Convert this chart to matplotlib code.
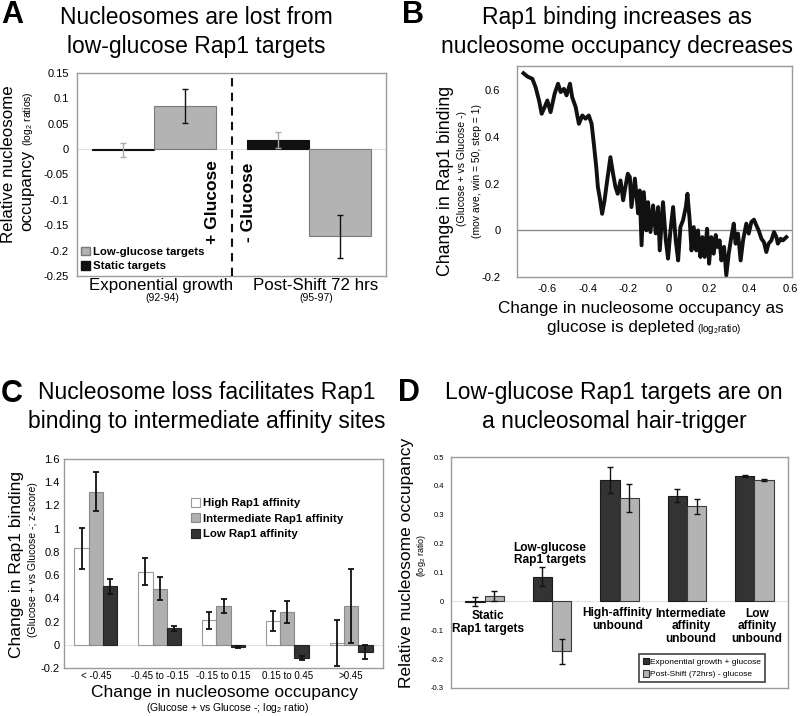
import matplotlib
matplotlib.use('Agg')
import matplotlib.pyplot as plt
from matplotlib.patches import Patch
import numpy as np

plt.rcParams['font.family'] = ['Liberation Sans', 'DejaVu Sans']
plt.rcParams['mathtext.fontset'] = 'custom'
plt.rcParams['mathtext.rm'] = 'Liberation Sans'

# ---------------- Panel A data ----------------
a_groups = ['Exponential growth', 'Post-Shift 72 hrs']
a_group_sub = ['(92-94)', '(95-97)']
a_static = [-0.002, 0.018]
a_static_err = [0.014, 0.016]
a_lowglu = [0.085, -0.172]
a_lowglu_err = [0.034, 0.043]
a_yticks = [0.15, 0.1, 0.05, 0, -0.05, -0.1, -0.15, -0.2, -0.25]
a_yticklabels = ['0.15', '0.1', '0.05', '0', '-0.05', '-0.1', '-0.15', '-0.2', '-0.25']

# ---------------- Panel B data ----------------
b_x = [-0.718, -0.699, -0.674, -0.658, -0.641, -0.628, -0.613, -0.600, -0.584, -0.564,
       -0.547, -0.534, -0.518, -0.505, -0.488, -0.477, -0.460, -0.444, -0.427, -0.411,
       -0.395, -0.381, -0.370, -0.358, -0.350, -0.340, -0.329, -0.317, -0.304, -0.288,
       -0.275, -0.263, -0.252, -0.238, -0.225, -0.214, -0.202,
       -0.192, -0.184, -0.167, -0.151, -0.143, -0.134, -0.123, -0.110, -0.102, -0.090,
       -0.077, -0.064, -0.052, -0.044, -0.028, -0.014, -0.003, 0.009, 0.022, 0.035,
       0.047, 0.058, 0.071, 0.085, 0.093, 0.104, 0.113, 0.124, 0.137, 0.145,
       0.157, 0.167, 0.178, 0.190, 0.200, 0.211, 0.223, 0.233, 0.241, 0.252,
       0.261, 0.274, 0.285, 0.297, 0.310, 0.322, 0.331, 0.343, 0.356, 0.368,
       0.384, 0.396, 0.409, 0.422, 0.434, 0.445, 0.459, 0.471, 0.483, 0.494,
       0.508, 0.521, 0.533, 0.540, 0.554, 0.565, 0.582]
b_y = [0.674, 0.660, 0.650, 0.614, 0.557, 0.500, 0.529, 0.557, 0.507, 0.586,
       0.629, 0.593, 0.607, 0.579, 0.629, 0.571, 0.529, 0.457, 0.493, 0.479,
       0.493, 0.457, 0.371, 0.271, 0.186, 0.136, 0.071, 0.129, 0.214, 0.314,
       0.243, 0.186, 0.157, 0.214, 0.129, 0.186, 0.243,
       0.229, 0.100, 0.222, 0.073, 0.171, -0.064, 0.164, 0.000, 0.121, -0.007,
       0.107, -0.013, 0.100, -0.086, 0.121, -0.043, -0.121, 0.000, 0.100, -0.043,
       -0.129, 0.014, 0.043, 0.100, 0.157, 0.043, -0.086, 0.014, -0.086, 0.000,
       -0.114, -0.029, -0.114, 0.007, -0.143, -0.029, -0.100, -0.020, -0.071, -0.043,
       -0.129, -0.071, -0.193, -0.100, -0.029, 0.029, -0.057, -0.014, -0.129, -0.043,
       0.029, -0.014, 0.036, 0.046, 0.021, 0.000, -0.036, -0.050, -0.093, -0.057,
       -0.043, -0.007, -0.029, -0.057, -0.036, -0.043, -0.029]
b_xticks = [-0.6, -0.4, -0.2, 0, 0.2, 0.4, 0.6]
b_xticklabels = ['-0.6', '-0.4', '-0.2', '0', '0.2', '0.4', '0.6']
b_yticks = [-0.2, 0, 0.2, 0.4, 0.6]
b_yticklabels = ['-0.2', '0', '0.2', '0.4', '0.6']

# ---------------- Panel C data ----------------
c_cats = ['< -0.45', '-0.45 to -0.15', '-0.15 to 0.15', '0.15 to 0.45', '>0.45']
c_series = ['High Rap1 affinity', 'Intermediate Rap1 affinity', 'Low Rap1 affinity']
c_high = [0.83, 0.63, 0.21, 0.205, 0.014]
c_high_err = [0.177, 0.115, 0.075, 0.09, 0.20]
c_inter = [1.32, 0.484, 0.334, 0.285, 0.334]
c_inter_err = [0.17, 0.10, 0.063, 0.095, 0.32]
c_low = [0.504, 0.141, -0.017, -0.115, -0.06]
c_low_err = [0.065, 0.02, 0.01, 0.02, 0.06]
c_yticks = [-0.2, 0, 0.2, 0.4, 0.6, 0.8, 1.0, 1.2, 1.4, 1.6]
c_yticklabels = ['-0.2', '0', '0.2', '0.4', '0.6', '0.8', '1', '1.2', '1.4', '1.6']

# ---------------- Panel D data ----------------
d_cats = ['Static\nRap1 targets', 'Low-glucose\nRap1 targets', 'High-affinity\nunbound',
          'Intermediate\naffinity\nunbound', 'Low\naffinity\nunbound']
d_series = ['Exponential growth + glucose', 'Post-Shift (72hrs) - glucose']
d_exp = [-0.001, 0.085, 0.421, 0.366, 0.435]
d_exp_err = [0.015, 0.033, 0.045, 0.023, 0.003]
d_post = [0.019, -0.173, 0.358, 0.329, 0.420]
d_post_err = [0.017, 0.043, 0.050, 0.025, 0.004]
d_yticks = [-0.3, -0.2, -0.1, 0, 0.1, 0.2, 0.3, 0.4, 0.5]
d_yticklabels = ['-0.3', '-0.2', '-0.1', '0', '0.1', '0.2', '0.3', '0.4', '0.5']

W, H = 800, 716
fig = plt.figure(figsize=(W / 100, H / 100), dpi=100)


def fx(x):
    return x / W


def fy(y):
    return 1 - y / H


def add_ax(l, t, r, b):
    ax = fig.add_axes([fx(l), fy(b), (r - l) / W, (b - t) / H])
    for s in ax.spines.values():
        s.set_color('#9a9a9a')
        s.set_linewidth(1.0)
    ax.tick_params(length=0)
    return ax


renderer = fig.canvas.get_renderer()


def parts_text(x, y, parts, rotation=0, gap=3):
    """Place consecutive text pieces of different sizes along one baseline.
    x, y in pixels from top-left; for rotation=90 text runs upward."""
    pos = 0.0
    for txt, size in parts:
        if rotation == 90:
            tx, ty = x, y - pos
        else:
            tx, ty = x + pos, y
        t = fig.text(fx(tx), fy(ty), txt, rotation=rotation, rotation_mode='anchor',
                     ha='left', va='baseline', fontsize=size)
        bb = t.get_window_extent(renderer)
        pos += (bb.height if rotation == 90 else bb.width) + gap


def centered_parts(xc, y, parts, gap=3):
    widths = []
    for txt, size in parts:
        t = fig.text(0, 0, txt, fontsize=size)
        widths.append(t.get_window_extent(renderer).width)
        t.remove()
    total = sum(widths) + gap * (len(parts) - 1)
    parts_text(xc - total / 2, y, parts)


def centered_parts_rot(x, yc, parts, gap=3):
    lens = []
    for txt, size in parts:
        t = fig.text(0, 0, txt, fontsize=size, rotation=90)
        lens.append(t.get_window_extent(renderer).height)
        t.remove()
    total = sum(lens) + gap * (len(parts) - 1)
    parts_text(x, yc + total / 2, parts, rotation=90)


# panel letters and titles
TITLE = 16.5
for letter, (lx, ly) in zip('ABCD', [(12, 15), (413, 15), (12, 394), (409, 393)]):
    fig.text(fx(lx), fy(ly), letter, fontsize=22, fontweight='bold', ha='center', va='center')
fig.text(fx(196), fy(32), 'Nucleosomes are lost from\nlow-glucose Rap1 targets',
         ha='center', va='center', fontsize=TITLE, linespacing=1.3)
fig.text(fx(617), fy(32), 'Rap1 binding increases as\nnucleosome occupancy decreases',
         ha='center', va='center', fontsize=TITLE, linespacing=1.3)
fig.text(fx(207), fy(407), 'Nucleosome loss facilitates Rap1\nbinding to intermediate affinity sites',
         ha='center', va='center', fontsize=TITLE, linespacing=1.3)
fig.text(fx(614), fy(407), 'Low-glucose Rap1 targets are on\na nucleosomal hair-trigger',
         ha='center', va='center', fontsize=TITLE, linespacing=1.3)

# ================= Panel A =================
axA = add_ax(77, 73, 386, 276)
xa = np.arange(len(a_groups))
bw = 0.4
axA.axhline(0, color='#e2e2e2', lw=0.8, zorder=0)
axA.bar(xa - bw / 2, a_static, bw, color='#111111', edgecolor='#111111', lw=0.8, zorder=2)
axA.bar(xa + bw / 2, a_lowglu, bw, color='#b3b3b3', edgecolor='#7a7a7a', lw=0.8, zorder=2)
axA.errorbar(xa - bw / 2, a_static, yerr=a_static_err, fmt='none', ecolor='#aaaaaa',
             capsize=2, elinewidth=1, zorder=3)
axA.errorbar(xa + bw / 2, a_lowglu, yerr=a_lowglu_err, fmt='none', ecolor='#111111',
             capsize=2, elinewidth=1, zorder=3)
axA.axvline(0.5, color='#111111', lw=1.5, ls=(0, (4, 3)), zorder=4)
axA.set_xlim(-0.5, 1.5)
axA.set_ylim(-0.25, 0.15)
axA.set_yticks(a_yticks)
axA.set_yticklabels(a_yticklabels, fontsize=8)
axA.tick_params(axis='y', pad=6)
axA.set_xticks([])
for i, (g, s) in enumerate(zip(a_groups, a_group_sub)):
    axA.text(i + 0.045, -0.254, g, transform=axA.transData, ha='center', va='top', fontsize=12.2)
    axA.text(i + 0.05, -0.284, s, transform=axA.transData, ha='center', va='top', fontsize=7.5)
axA.text(0.375, -0.105, '+ Glucose', rotation=90, ha='center', va='center',
         fontsize=12.5, fontweight='bold')
axA.text(0.608, -0.105, '- Glucose', rotation=90, ha='center', va='center',
         fontsize=12.5, fontweight='bold')
axA.legend(handles=[Patch(facecolor='#b3b3b3', edgecolor='#7a7a7a', label='Low-glucose targets'),
                    Patch(facecolor='#111111', edgecolor='#111111', label='Static targets')],
           loc='lower left', bbox_to_anchor=(-0.01, -0.01), frameon=False,
           prop={'weight': 'bold', 'size': 8.2}, handlelength=0.8, handleheight=0.8,
           handletextpad=0.3, labelspacing=0.35, borderaxespad=0.2)
fig.text(fx(9), fy(164), 'Relative nucleosome', rotation=90, ha='center', va='center', fontsize=12.2)
centered_parts_rot(31, 161, [('occupancy', 12.2), (r'(log$_2$ ratios)', 7.5)])

# ================= Panel B =================
axB = add_ax(517, 66, 792, 277)
axB.axhline(0, color='#8a8a8a', lw=1.0, zorder=1)
axB.plot(b_x, b_y, color='#111111', lw=2.8, solid_joinstyle='round', zorder=2)
axB.set_xlim(-0.75, 0.61)
axB.set_ylim(-0.2, 0.705)
axB.set_xticks(b_xticks)
axB.set_xticklabels(b_xticklabels, fontsize=8)
axB.set_yticks(b_yticks)
axB.set_yticklabels(b_yticklabels, fontsize=8)
axB.tick_params(axis='y', pad=12)
axB.tick_params(axis='x', pad=5)
fig.text(fx(446), fy(181), 'Change in Rap1 binding', rotation=90, ha='center', va='center', fontsize=12.8)
fig.text(fx(462), fy(168), '(Glucose + vs Glucose -)', rotation=90, ha='center', va='center', fontsize=7.5)
fig.text(fx(477), fy(171), '(mov ave, win = 50, step = 1)', rotation=90, ha='center', va='center', fontsize=7.5)
fig.text(fx(641), fy(308), 'Change in nucleosome occupancy as', ha='center', va='center', fontsize=12.3)
centered_parts(644, 332, [('glucose is depleted', 12.3), (r'(log$_2$ratio)', 7)])

# ================= Panel C =================
axC = add_ax(64, 459, 383, 668)
xc = np.arange(len(c_cats))
cw = 0.225
axC.axhline(0, color='#e2e2e2', lw=0.8, zorder=0)
c_styles = [('#ffffff', '#9a9a9a'), ('#b0b0b0', '#8a8a8a'), ('#333333', '#222222')]
for k, (vals, errs) in enumerate([(c_high, c_high_err), (c_inter, c_inter_err), (c_low, c_low_err)]):
    fc, ec = c_styles[k]
    axC.bar(xc + (k - 1) * cw, vals, cw, color=fc, edgecolor=ec, lw=0.8, zorder=2, label=c_series[k])
    axC.errorbar(xc + (k - 1) * cw, vals, yerr=errs, fmt='none', ecolor='#111111',
                 capsize=2, elinewidth=1.3, capthick=1.3, zorder=3)
axC.set_xlim(-0.5, 4.5)
axC.set_ylim(-0.2, 1.6)
axC.set_yticks(c_yticks)
axC.set_yticklabels(c_yticklabels, fontsize=8)
axC.set_xticks(xc)
axC.set_xticklabels(c_cats, fontsize=7)
axC.tick_params(axis='y', pad=3)
axC.tick_params(axis='x', pad=2)
axC.legend(loc='upper left', bbox_to_anchor=(0.385, 0.835), frameon=False,
           prop={'weight': 'bold', 'size': 8.2}, handlelength=0.75, handleheight=0.8,
           handletextpad=0.25, labelspacing=0.45, borderaxespad=0)
fig.text(fx(17), fy(564), 'Change in Rap1 binding', rotation=90, ha='center', va='center', fontsize=12.5)
fig.text(fx(33), fy(560), '(Glucose + vs Glucose -; z-score)', rotation=90, ha='center', va='center', fontsize=7.5)
fig.text(fx(224), fy(692), 'Change in nucleosome occupancy', ha='center', va='center', fontsize=12.5)
fig.text(fx(227), fy(708), r'(Glucose + vs Glucose -; log$_2$ ratio)', ha='center', va='center', fontsize=7.5)

# ================= Panel D =================
axD = add_ax(451, 457, 788, 688)
xd = np.arange(len(d_cats))
dw = 0.287
axD.axhline(0, color='#e2e2e2', lw=0.8, zorder=0)
axD.bar(xd - dw / 2, d_exp, dw, color='#333333', edgecolor='#1a1a1a', lw=0.8, zorder=2, label=d_series[0])
axD.bar(xd + dw / 2, d_post, dw, color='#b3b3b3', edgecolor='#3a3a3a', lw=0.8, zorder=2, label=d_series[1])
axD.errorbar(xd - dw / 2, d_exp, yerr=d_exp_err, fmt='none', ecolor='#111111', capsize=2, elinewidth=1, zorder=3)
axD.errorbar(xd + dw / 2, d_post, yerr=d_post_err, fmt='none', ecolor='#111111', capsize=2, elinewidth=1, zorder=3)
axD.set_xlim(-0.5, 4.5)
axD.set_ylim(-0.3, 0.5)
axD.set_xticks([])
axD.set_yticks(d_yticks)
axD.set_yticklabels(d_yticklabels, fontsize=5.5)
axD.tick_params(axis='y', pad=5)
d_label_y = [-0.073, 0.165, -0.063, -0.087, -0.087]
d_label_dx = [0.05, -0.03, -0.03, 0.06, 0.04]
for i, lab in enumerate(d_cats):
    axD.text(i + d_label_dx[i], d_label_y[i], lab, ha='center', va='center', fontsize=8.6,
             fontweight='bold', linespacing=1.05, zorder=5)
legD = axD.legend(loc='lower right', bbox_to_anchor=(0.932, 0.026), frameon=True, fancybox=False,
                  fontsize=6, handlelength=0.7, handleheight=0.8, handletextpad=0.2,
                  labelspacing=0.5, borderpad=0.45, borderaxespad=0)
legD.get_frame().set_edgecolor('#111111')
legD.get_frame().set_linewidth(1.2)
fig.text(fx(407), fy(563), 'Relative nucleosome occupancy', rotation=90, ha='center', va='center', fontsize=12.5)
fig.text(fx(421), fy(555), r'(log$_2$ ratio)', rotation=90, ha='center', va='center', fontsize=6.5)

fig.savefig('out.png', dpi=100)
